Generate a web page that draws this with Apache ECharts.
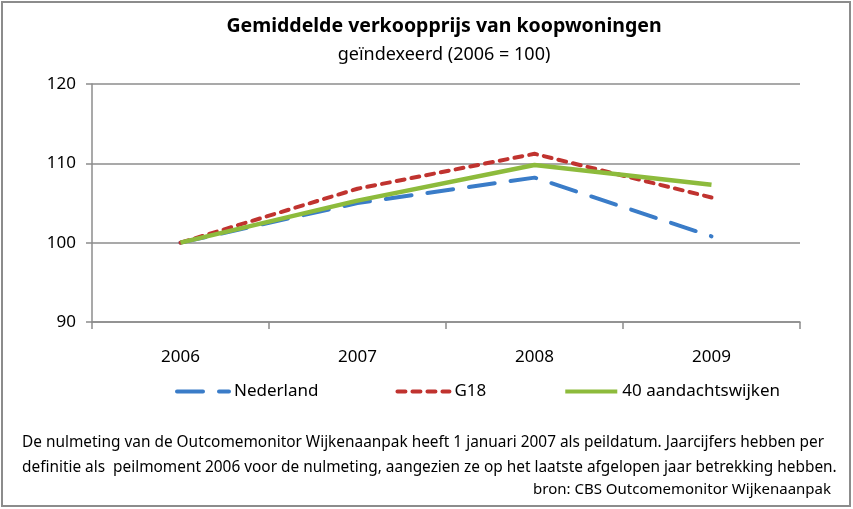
<!DOCTYPE html>
<html lang="nl">
<head>
    <meta charset="UTF-8" />
    <title>Gemiddelde verkoopprijs van koopwoningen</title>
    <style>
        body { margin: 0; padding: 0; background: #fff; }
        .chart { width: 853px; height: 509px; }
    </style>
</head>
<body>
<div class="chart"></div>
<script src="https://cdn.jsdelivr.net/npm/echarts@6/dist/echarts.min.js"></script>
<script>
    const years = ['2006', '2007', '2008', '2009'];
    const nederland = [100, 105.0, 108.2, 100.8];
    const g18 = [100, 106.8, 111.2, 105.7];
    const wijken = [100, 105.3, 109.8, 107.3];

    const font = "'Noto Sans', sans-serif";

    const container = document.querySelector('.chart');
    const instance = echarts.init(container);
    const option = {
        animation: false,
        textStyle: { fontFamily: font, color: '#000' },
        title: {
            text: 'Gemiddelde verkoopprijs van koopwoningen',
            subtext: 'geïndexeerd (2006 = 100)',
            left: 439,
            textAlign: 'center',
            top: 11,
            itemGap: 10,
            textStyle: { fontFamily: font, fontSize: 19.5, fontWeight: 'bold', color: '#000' },
            subtextStyle: { fontFamily: font, fontSize: 18, color: '#000' }
        },
        grid: { left: 92, right: 53, top: 84, bottom: 187 },
        legend: {
            left: 170,
            top: 378,
            itemWidth: 52,
            itemHeight: 14,
            itemGap: 77,
            itemStyle: { opacity: 0 },
            lineStyle: { width: 4 },
            textStyle: { fontFamily: font, fontSize: 17, color: '#000' },
            data: ['Nederland', 'G18', '40 aandachtswijken']
        },
        xAxis: {
            type: 'category',
            data: years,
            boundaryGap: true,
            axisLine: { lineStyle: { color: '#8c8c8c', width: 1.5 } },
            axisTick: { show: true, length: 7, lineStyle: { color: '#8c8c8c', width: 1.5 } },
            axisLabel: { fontSize: 17, color: '#000', margin: 27, fontFamily: font }
        },
        yAxis: {
            type: 'value',
            min: 90,
            max: 120,
            interval: 10,
            axisLine: { show: true, lineStyle: { color: '#8c8c8c', width: 1.5 } },
            axisTick: { show: true, length: 6, lineStyle: { color: '#8c8c8c', width: 1.5 } },
            splitLine: { lineStyle: { color: '#8c8c8c', width: 1.5 } },
            axisLabel: { fontSize: 17, color: '#000', margin: 16, fontFamily: font }
        },
        series: [
            {
                name: 'Nederland',
                type: 'line',
                data: nederland,
                symbol: 'none',
                itemStyle: { color: '#3a7cc8' },
                lineStyle: { color: '#3a7cc8', width: 4, type: [26, 16], cap: 'round' }
            },
            {
                name: 'G18',
                type: 'line',
                data: g18,
                symbol: 'none',
                itemStyle: { color: '#c0332f' },
                lineStyle: { color: '#c0332f', width: 4, type: [8, 7], cap: 'round' }
            },
            {
                name: '40 aandachtswijken',
                type: 'line',
                data: wijken,
                symbol: 'none',
                itemStyle: { color: '#8dbb3c' },
                lineStyle: { color: '#8dbb3c', width: 4.5 }
            }
        ],
        graphic: [
            {
                type: 'rect',
                shape: { x: 2, y: 2, width: 848, height: 504 },
                style: { fill: 'none', stroke: '#8c8c8c', lineWidth: 2 },
                silent: true
            },
            {
                type: 'text',
                left: 22,
                top: 430,
                style: {
                    text: 'De nulmeting van de Outcomemonitor Wijkenaanpak heeft 1 januari 2007 als peildatum. Jaarcijfers hebben per\ndefinitie als  peilmoment 2006 voor de nulmeting, aangezien ze op het laatste afgelopen jaar betrekking hebben.',
                    font: '15.4px ' + font,
                    lineHeight: 25,
                    fill: '#000'
                }
            },
            {
                type: 'text',
                right: 22,
                top: 482,
                style: {
                    text: 'bron: CBS Outcomemonitor Wijkenaanpak',
                    font: '15px ' + font,
                    fill: '#000'
                }
            }
        ]
    };
    instance.setOption(option);
</script>
</body>
</html>
